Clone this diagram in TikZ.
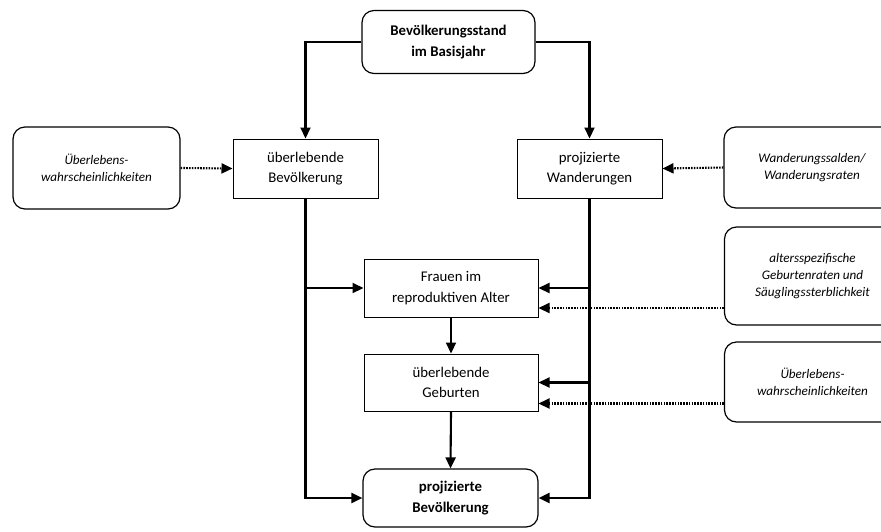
\documentclass[tikz,border=0pt]{standalone}
\usepackage{fontspec}
\setmainfont{Carlito}
\usetikzlibrary{arrows.meta}
\begin{document}
\begin{tikzpicture}[x=1pt,y=-1pt,
  box/.style={draw,line width=1pt,align=center,inner sep=0pt,font=\fontsize{14.8}{20.5}\selectfont},
  rbox/.style={box,rounded corners=12pt,line width=1.2pt},
  ibox/.style={rbox,font=\fontsize{13.1}{17}\selectfont\itshape},
  arr/.style={line width=2.1pt,-{Triangle[length=11pt,width=10pt]}},
  darr/.style={line width=2.1pt,dash pattern=on 1.6pt off 1.2pt,-{Triangle[length=11pt,width=10pt]}}]
\useasboundingbox (0,0) rectangle (881,531);
\clip (0,0) rectangle (881,531);
\node[rbox,minimum width=173pt,minimum height=63pt,font=\fontsize{14.8}{20.5}\selectfont\bfseries] (top) at (448.5,42) {Bevölkerungsstand\\im Basisjahr};
\node[box,minimum width=145pt,minimum height=59pt] (ueb) at (305.5,168.5) {überlebende\\Bevölkerung};
\node[box,minimum width=145pt,minimum height=59pt] (proj) at (589.5,168.5) {projizierte\\Wanderungen};
\node[ibox,minimum width=167pt,minimum height=82pt] (lbox) at (96.5,168) {Überlebens-\\wahrscheinlichkeiten};
\node[ibox,minimum width=176pt,minimum height=81pt] (r1) at (812,167.5) {Wanderungssalden/\\Wanderungsraten};
\node[box,minimum width=174pt,minimum height=58pt] (frauen) at (451,288) {Frauen im\\reproduktiven Alter};
\node[box,minimum width=174pt,minimum height=57pt] (geb) at (451,382.5) {überlebende\\Geburten};
\node[ibox,minimum width=176pt,minimum height=98pt] (r2) at (812.5,276) {altersspezifische\\Geburtenraten und\\Säuglingssterblichkeit};
\node[ibox,minimum width=176pt,minimum height=80pt] (r3) at (812.5,382) {Überlebens-\\wahrscheinlichkeiten};
\node[rbox,minimum width=175pt,minimum height=58pt,font=\fontsize{14.8}{20.5}\selectfont\bfseries] (pbev) at (450.5,498) {projizierte\\Bevölkerung};
% top connections
\draw[arr] (top.west) -| (ueb.north);
\draw[arr] (top.east) -| (proj.north);
% side inputs
\draw[darr] (lbox.east) -- (ueb.west);
\draw[darr] (r1.west) -- (proj.east);
% left trunk
\draw[arr] (ueb.south) |- (pbev.west);
\draw[arr] (ueb.south |- frauen.west) -- (frauen.west);
% right trunk
\draw[arr] (proj.south) |- (pbev.east);
\draw[arr] (proj.south |- frauen.east) -- (frauen.east);
\draw[arr] (proj.south |- geb.east) -- (geb.east);
% center chain
\draw[arr] (frauen.south) -- (geb.north);
\draw[arr] (geb.south) -- (pbev.north);
% dotted inputs
\draw[darr] (r2.west |- 0,308) -- ([yshift=-20pt]frauen.east);
\draw[darr] (r3.west |- 0,403.5) -- ([yshift=-21pt]geb.east);
\end{tikzpicture}
\end{document}
